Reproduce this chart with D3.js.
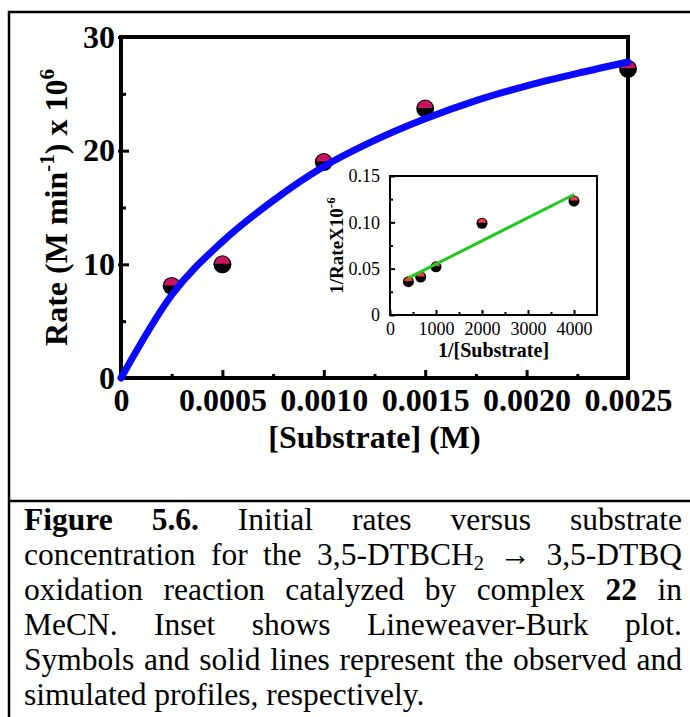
<!DOCTYPE html>
<meta charset="utf-8">
<style>
body { margin: 0; background: #fff; }
svg text { font-family: "Liberation Serif", "Times New Roman", serif; }
.tick line { stroke: #000; }
</style>
<body>
<script src="https://d3js.org/d3.v7.min.js"></script>
<script>

// main plot: rate vs [substrate]
var subConc = [0.00025, 0.0005, 0.0010, 0.0015, 0.0025],
    rateObs = [8.1, 10.0, 19.0, 23.7, 27.2];

// simulated profile
var simConc = [0, 0.00025, 0.0005, 0.00075, 0.0010, 0.00125, 0.0015, 0.00175, 0.0020, 0.00225, 0.0025],
    simRate = [0, 7.3, 12.0, 15.6, 18.6, 20.9, 22.8, 24.4, 25.7, 26.8, 27.8];

var xMajor = [0, 0.0005, 0.0010, 0.0015, 0.0020, 0.0025],
    xMinor = [0.00025, 0.00075, 0.00125, 0.00175, 0.00225],
    yMajor = [0, 10, 20, 30],
    yMinor = [5, 15, 25];

// inset: Lineweaver-Burk
var invSub = [400, 667, 1000, 2000, 4000],
    invRate = [0.036, 0.041, 0.052, 0.099, 0.123];
var fitX = [400, 4000],
    fitY = [0.040, 0.130];

var ixMajor = [0, 1000, 2000, 3000, 4000],
    ixMinor = [500, 1500, 2500, 3500],
    iyMajor = [0, 0.05, 0.10, 0.15],
    iyMinor = [0.025, 0.075, 0.125];

var caption = [
  "*Figure* *5.6.* Initial rates versus substrate",
  "concentration for the 3,5-DTBCH_2 \u2192 3,5-DTBQ",
  "oxidation reaction catalyzed by complex *22* in",
  "MeCN. Inset shows Lineweaver-Burk plot.",
  "Symbols and solid lines represent the observed and",
  "simulated profiles, respectively."
];

var width = 690, height = 717,
    serif = "'Liberation Serif', 'Times New Roman', serif";

var svg = d3.select("body").append("svg")
    .attr("width", width)
    .attr("height", height);

// outer box + divider
svg.append("rect")
    .attr("x", 9).attr("y", 12)
    .attr("width", 700).attr("height", 720)
    .attr("fill", "none").attr("stroke", "#000").attr("stroke-width", 2.5);
svg.append("line")
    .attr("x1", 9).attr("x2", 690).attr("y1", 501).attr("y2", 501)
    .attr("stroke", "#000").attr("stroke-width", 2.5);

var x = d3.scaleLinear().domain([0, 0.0025]).range([121, 628]),
    y = d3.scaleLinear().domain([0, 30]).range([378, 37]);

function styleAxis(g, size, weight, tw) {
  g.attr("font-family", serif);
  g.select(".domain").remove();
  g.selectAll(".tick line").attr("stroke-width", tw);
  g.selectAll("text")
    .attr("fill", "#000")
    .style("font-family", serif)
    .style("font-size", size + "px")
    .style("font-weight", weight);
}

svg.append("g").attr("transform", "translate(0,378)")
  .call(d3.axisBottom(x).tickValues(xMinor).tickSizeInner(-4).tickSizeOuter(0).tickFormat(""))
  .call(styleAxis, 32, "bold", 3);
svg.append("g").attr("transform", "translate(0,378)")
  .call(d3.axisBottom(x).tickValues(xMajor).tickSizeInner(-8).tickSizeOuter(0).tickPadding(10)
    .tickFormat(function(d){ return d === 0 ? "0" : d.toFixed(4); }))
  .call(styleAxis, 32, "bold", 3);

svg.append("g").attr("transform", "translate(121,0)")
  .call(d3.axisLeft(y).tickValues(yMinor).tickSizeInner(-5).tickSizeOuter(0).tickFormat(""))
  .call(styleAxis, 32, "bold", 3);
svg.append("g").attr("transform", "translate(121,0)")
  .call(d3.axisLeft(y).tickValues(yMajor).tickSizeInner(-8).tickSizeOuter(0).tickPadding(6)
    .tickFormat(d3.format("d")))
  .call(styleAxis, 32, "bold", 3)
  .selectAll(".tick line").attr("x1", -3);

svg.append("rect")
    .attr("x", x(0)).attr("y", y(30))
    .attr("width", x(0.0025) - x(0)).attr("height", y(0) - y(30))
    .attr("fill", "none").attr("stroke", "#000").attr("stroke-width", 4);

// axis titles
svg.append("text")
    .attr("x", (x(0) + x(0.0025)) / 2).attr("y", 448)
    .attr("text-anchor", "middle")
    .style("font-size", "32px").style("font-weight", "bold")
    .text("[Substrate] (M)");

var yt = svg.append("text")
    .attr("transform", "translate(67," + ((y(0) + y(30)) / 2) + ") rotate(-90)")
    .attr("text-anchor", "middle")
    .style("font-size", "32px").style("font-weight", "bold");
yt.append("tspan").text("Rate (M min");
yt.append("tspan").attr("dy", -13).style("font-size", "21px").text("-1");
yt.append("tspan").attr("dy", 13).text(") x 10");
yt.append("tspan").attr("dy", -13).style("font-size", "21px").text("6");

// half-filled markers
var topHalf = d3.arc().innerRadius(0).startAngle(-Math.PI / 2).endAngle(Math.PI / 2);

function markers(g, xs, ys, sx, sy, r, col) {
  var pts = g.selectAll(null).data(d3.zip(xs, ys)).enter().append("g")
      .attr("transform", function(d){ return "translate(" + sx(d[0]) + "," + sy(d[1]) + ")"; });
  pts.append("circle").attr("r", r).attr("fill", "#000");
  pts.append("path").attr("d", topHalf.outerRadius(r - 1.5)()).attr("transform", "translate(0,-0.5)").attr("fill", col);
}

markers(svg, subConc, rateObs, x, y, 9, "#c8155f");

var line = d3.line()
    .x(function(d){ return x(d[0]); })
    .y(function(d){ return y(d[1]); })
    .curve(d3.curveMonotoneX);

svg.append("path")
    .datum(d3.zip(simConc, simRate))
    .attr("d", line)
    .attr("fill", "none")
    .attr("stroke", "#0a0aff")
    .attr("stroke-width", 7)
    .attr("stroke-linecap", "round");

// inset
var xi = d3.scaleLinear().domain([0, 4500]).range([390, 597]),
    yi = d3.scaleLinear().domain([0, 0.15]).range([315, 176]);

var inset = svg.append("g");
inset.append("rect")
    .attr("x", xi(0)).attr("y", yi(0.15))
    .attr("width", xi(4500) - xi(0)).attr("height", yi(0) - yi(0.15))
    .attr("fill", "#fff");

inset.append("g").attr("transform", "translate(0,315)")
  .call(d3.axisBottom(xi).tickValues(ixMinor).tickSizeInner(-3).tickSizeOuter(0).tickFormat(""))
  .call(styleAxis, 18, "normal", 2);
inset.append("g").attr("transform", "translate(0,315)")
  .call(d3.axisBottom(xi).tickValues(ixMajor).tickSizeInner(-5).tickSizeOuter(0).tickPadding(7)
    .tickFormat(d3.format("d")))
  .call(styleAxis, 18, "normal", 2);
inset.append("g").attr("transform", "translate(390,0)")
  .call(d3.axisLeft(yi).tickValues(iyMinor).tickSizeInner(-3).tickSizeOuter(0).tickFormat(""))
  .call(styleAxis, 18, "normal", 2);
inset.append("g").attr("transform", "translate(390,0)")
  .call(d3.axisLeft(yi).tickValues(iyMajor).tickSizeInner(-5).tickSizeOuter(0).tickPadding(10)
    .tickFormat(function(d){ return d === 0 ? "0" : d.toFixed(2); }))
  .call(styleAxis, 18, "normal", 2);

inset.append("rect")
    .attr("x", xi(0)).attr("y", yi(0.15))
    .attr("width", xi(4500) - xi(0)).attr("height", yi(0) - yi(0.15))
    .attr("fill", "none").attr("stroke", "#000").attr("stroke-width", 2);

markers(inset, invSub, invRate, xi, yi, 5.5, "#f03c3c");

inset.append("path")
    .datum(d3.zip(fitX, fitY))
    .attr("d", d3.line().x(function(d){ return xi(d[0]); }).y(function(d){ return yi(d[1]); }))
    .attr("stroke", "#22c81e")
    .attr("stroke-width", 3);

inset.append("text")
    .attr("x", (xi(0) + xi(4500)) / 2).attr("y", 357)
    .attr("text-anchor", "middle")
    .style("font-size", "20px").style("font-weight", "bold")
    .text("1/[Substrate]");

var iyt = inset.append("text")
    .attr("transform", "translate(343," + ((yi(0) + yi(0.15)) / 2) + ") rotate(-90)")
    .attr("text-anchor", "middle")
    .style("font-size", "19px").style("font-weight", "bold");
iyt.append("tspan").text("1/RateX10");
iyt.append("tspan").attr("dy", -8).style("font-size", "13px").text("-6");

// caption, justified by hand
var capSize = 31.5, capLeft = 24, capRight = 682, capTop = 530, capStep = 35;

caption.forEach(function(str, i) {
  var words = str.split(" ");
  var nodes = words.map(function(w) {
    var t = svg.append("text")
        .attr("y", capTop + i * capStep)
        .style("font-size", capSize + "px");
    if (w.charAt(0) === "*") {
      t.style("font-weight", "bold").text(w.replace(/\*/g, ""));
    } else if (w.indexOf("_") >= 0) {
      var parts = w.split("_");
      t.append("tspan").text(parts[0]);
      t.append("tspan").attr("dy", 5).style("font-size", (capSize * 0.65) + "px").text(parts[1]);
    } else {
      t.text(w);
    }
    return t;
  });
  var widths = nodes.map(function(t){ return t.node().getComputedTextLength(); });
  var total = d3.sum(widths);
  var gap = (i === caption.length - 1 || words.length < 2) ? capSize * 0.25
          : (capRight - capLeft - total) / (words.length - 1);
  var cx = capLeft;
  nodes.forEach(function(t, j) {
    t.attr("x", cx);
    cx += widths[j] + gap;
  });
});

</script>
